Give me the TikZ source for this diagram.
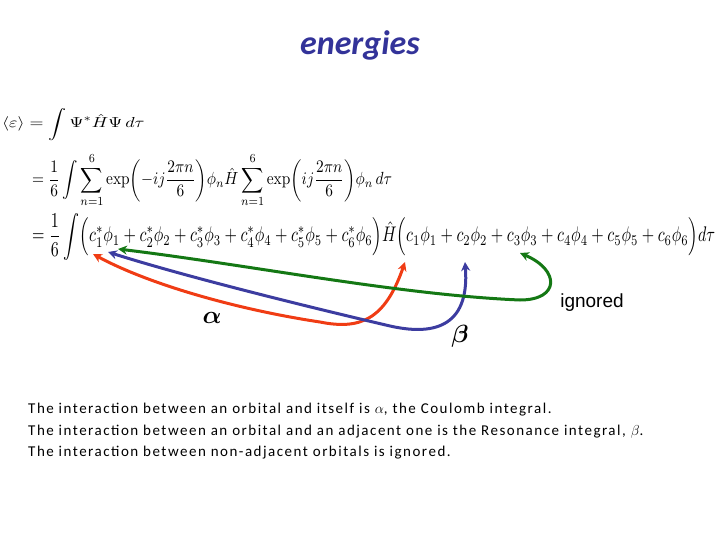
\documentclass[tikz,border=0pt]{standalone}
\usepackage{amsmath}
\usepackage{fontspec}
\setsansfont{Carlito}
\newfontfamily\arialf{Liberation Sans}
\newfontfamily\bodyf[LetterSpace=10]{Carlito}
\usetikzlibrary{arrows.meta}
\definecolor{titleblue}{RGB}{51,51,153}
\definecolor{ared}{RGB}{240,60,20}
\definecolor{ablue}{RGB}{60,60,160}
\definecolor{agreen}{RGB}{20,120,20}
\begin{document}
\begin{tikzpicture}[x=1pt,y=-1pt,
  arr/.style={line width=3pt,{Stealth[length=9pt,width=9pt]}-{Stealth[length=9pt,width=9pt]}},
  eqn/.style={anchor=north west,inner sep=0pt},
  body/.style={anchor=west,font=\bodyf\fontsize{15}{18}\selectfont,inner sep=0pt}]
\useasboundingbox (0,0) rectangle (720,540);
\node[font=\sffamily\bfseries\itshape\fontsize{34}{40}\selectfont,text=titleblue] (title) at (360,45) {energies};
\node[eqn] (eq1) at (2,108) {\scalebox{1.8}[1.45]{$\displaystyle \langle\varepsilon\rangle = \int \Psi^{*}\hat H\Psi\,d\tau$}};
\node[eqn] (eq2) at (32,153) {\resizebox*{360pt}{54pt}{$\displaystyle =\frac16\int\sum_{n=1}^{6}\exp\!\left(-ij\frac{2\pi n}{6}\right)\!\phi_n\hat H\sum_{n=1}^{6}\exp\!\left(ij\frac{2\pi n}{6}\right)\!\phi_n\,d\tau$}};
\node[eqn] (eq3) at (32,213) {\resizebox*{683pt}{47pt}{$\displaystyle =\frac16\int\Bigl(c_1^{*}\phi_1+c_2^{*}\phi_2+c_3^{*}\phi_3+c_4^{*}\phi_4+c_5^{*}\phi_5+c_6^{*}\phi_6\Bigr)\hat H\Bigl(c_1\phi_1+c_2\phi_2+c_3\phi_3+c_4\phi_4+c_5\phi_5+c_6\phi_6\Bigr)d\tau$}};
\coordinate (rl) at (93,254); \coordinate (rr) at (405,262);
\coordinate (bl) at (108,252); \coordinate (br) at (465,262);
\coordinate (gl) at (118,249); \coordinate (gr) at (520,253);
\draw[arr,ared] (rr) .. controls (385,320) and (360,330) .. (320,322) .. controls (240,310) and (150,285) .. (rl);
\draw[arr,ablue] (br) .. controls (470,330) and (430,335) .. (390,326) .. controls (300,305) and (180,275) .. (bl);
\draw[arr,agreen] (gr) .. controls (560,270) and (560,300) .. (520,300) .. controls (400,295) and (250,265) .. (gl);
\node[font=\bfseries\fontsize{30}{34}\selectfont] (alpha) at (212,318) {$\boldsymbol\alpha$};
\node[font=\bfseries\fontsize{30}{34}\selectfont] (beta) at (460,336) {$\boldsymbol\beta$};
\node[font=\arialf\fontsize{19}{22}\selectfont] (ign) at (592,303) {ignored};
\node[body] (t1) at (28,410) {The interaction between an orbital and itself is $\alpha$, the Coulomb integral.};
\node[body] (t2) at (28,432) {The interaction between an orbital and an adjacent one is the Resonance integral, $\beta$.};
\node[body] (t3) at (28,453) {The interaction between non-adjacent orbitals is ignored.};
\end{tikzpicture}
\end{document}
